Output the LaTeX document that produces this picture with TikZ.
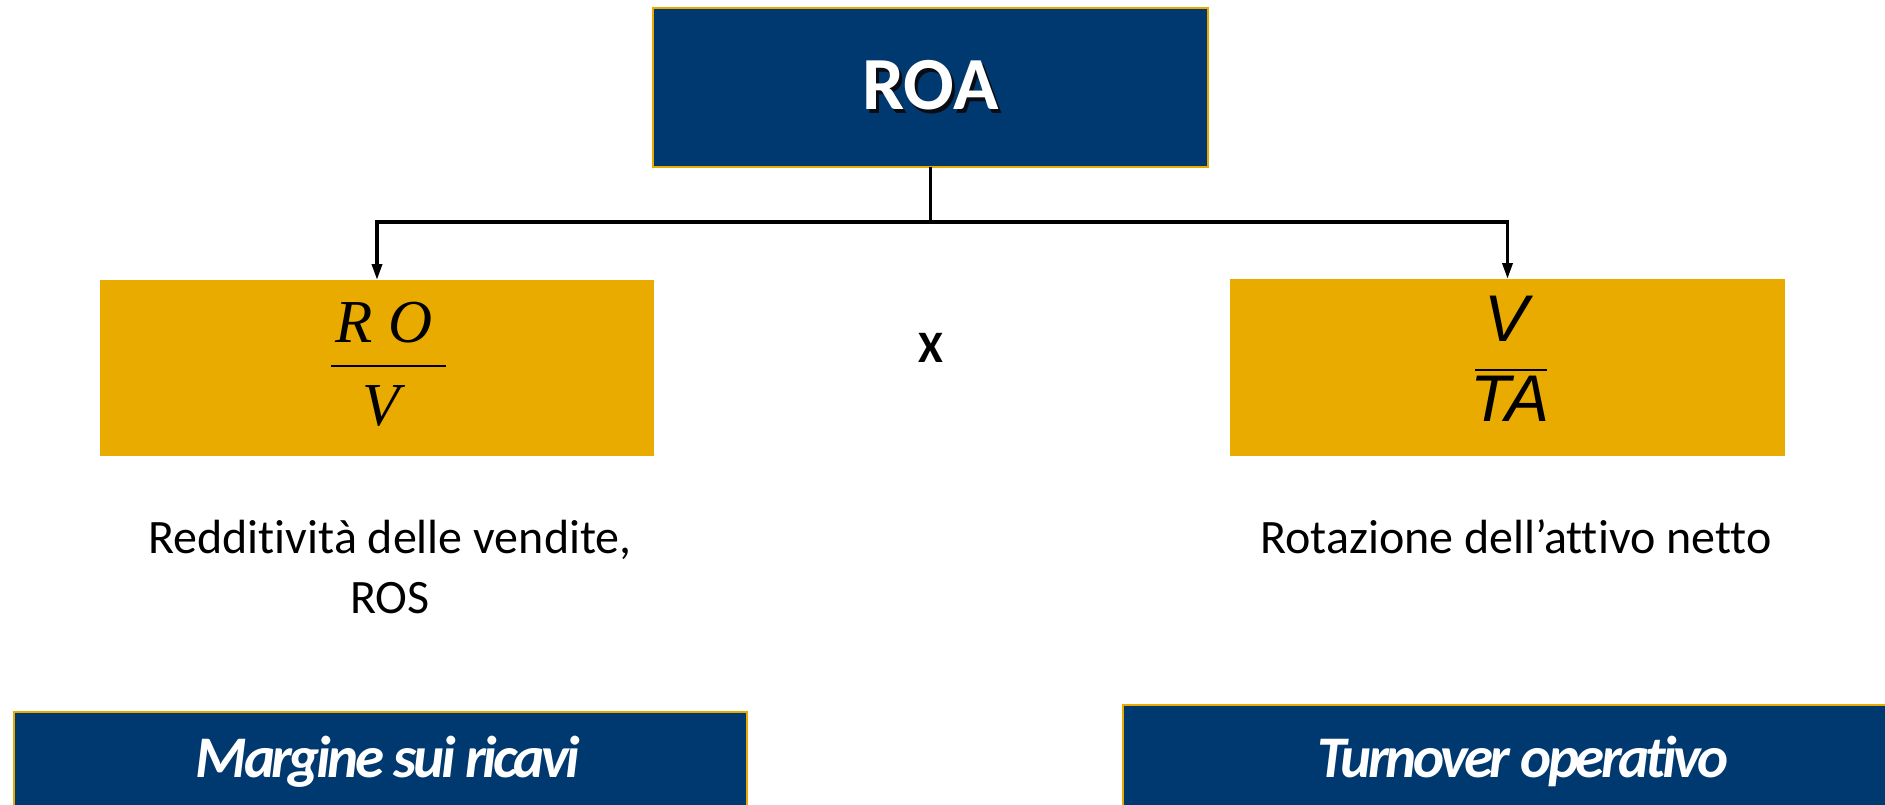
\documentclass[tikz,border=0pt]{standalone}
\usepackage{fontspec}
\setmainfont{Carlito}[Ligatures=NoCommon]
\newfontfamily\tnr{Liberation Serif}
\newfontfamily\ari{Liberation Sans}
\newfontfamily\carlitotight{Carlito}[Ligatures=NoCommon, LetterSpace=-6]
\usetikzlibrary{arrows.meta}
\definecolor{navy}{RGB}{0,57,112}
\definecolor{gold}{RGB}{234,171,0}
\definecolor{shadowcol}{RGB}{10,12,20}
\tikzset{
  navybox/.style={rectangle, fill=navy, draw=gold, line width=2pt, inner sep=0pt, outer sep=0pt},
  goldbox/.style={rectangle, fill=gold, inner sep=0pt, outer sep=0pt},
  conn/.style={line width=3.5pt, -{Triangle[length=16pt,width=10pt]}},
  lbl/.style={inner sep=0pt, font=\fontsize{48}{60}\selectfont, align=center},
  bottomtxt/.style={inner sep=0pt, text=white, font=\carlitotight\fontsize{59}{66}\selectfont\bfseries\itshape},
}
\begin{document}
\begin{tikzpicture}[x=1pt,y=-1pt]
\useasboundingbox (0,0) rectangle (1885,805);
% top box with shadowed title
\node[navybox, minimum width=555pt, minimum height=159pt, text=white,
      font=\fontsize{75}{80}\selectfont\bfseries] (roa) at (930.5,87.5)
  {\rlap{\kern3pt\raisebox{-4pt}{\textcolor{shadowcol}{ROA}}}ROA};
% gold boxes
\node[goldbox, minimum width=554pt, minimum height=176pt] (lbox) at (377,368) {};
\node[goldbox, minimum width=555pt, minimum height=177pt] (rbox) at (1507.5,367.5) {};
% connectors
\coordinate (junc) at (930.5,222);
\draw[line width=3.5pt] (roa.south) -- (junc);
\draw[conn] (junc) -| (lbox.north);
\draw[conn] (junc) -| (rbox.north);
% left fraction
\node[inner sep=0pt, font=\fontsize{61}{66}\selectfont\tnr\itshape] (lnum) at (384,323) {R O};
\node[inner sep=0pt, font=\fontsize{61}{66}\selectfont\tnr\itshape] (lden) at (381,406) {V};
\draw[line width=2.5pt] (331,366) -- (446,366);
% right fraction
\node[inner sep=0pt, font=\fontsize{66}{70}\selectfont\ari\itshape] (rnum) at (1506,319) {V};
\node[inner sep=0pt, font=\fontsize{66}{70}\selectfont\ari\itshape] (rden) at (1510,399) {TA};
\draw[line width=2.5pt] (1475,370) -- (1547,370);
% times sign
\node[inner sep=0pt, font=\fontsize{45}{50}\selectfont\bfseries] (times) at (931,348) {X};
% labels
\node[lbl] (llbl) at (390,567) {Redditività delle vendite,\\ROS};
\node[lbl, anchor=base] (rlbl) at (1516,553) {Rotazione dell’attivo netto};
% bottom boxes
\node[navybox, minimum width=733pt, minimum height=110pt, anchor=north west] (lbot) at (14,712) {};
\node[navybox, minimum width=790pt, minimum height=115pt, anchor=north west] (rbot) at (1123,705) {};
\node[bottomtxt, anchor=base] (lbottxt) at (388,777) {Margine sui ricavi};
\node[bottomtxt, anchor=base] (rbottxt) at (1523,777) {Turnover operativo};
\end{tikzpicture}
\end{document}
